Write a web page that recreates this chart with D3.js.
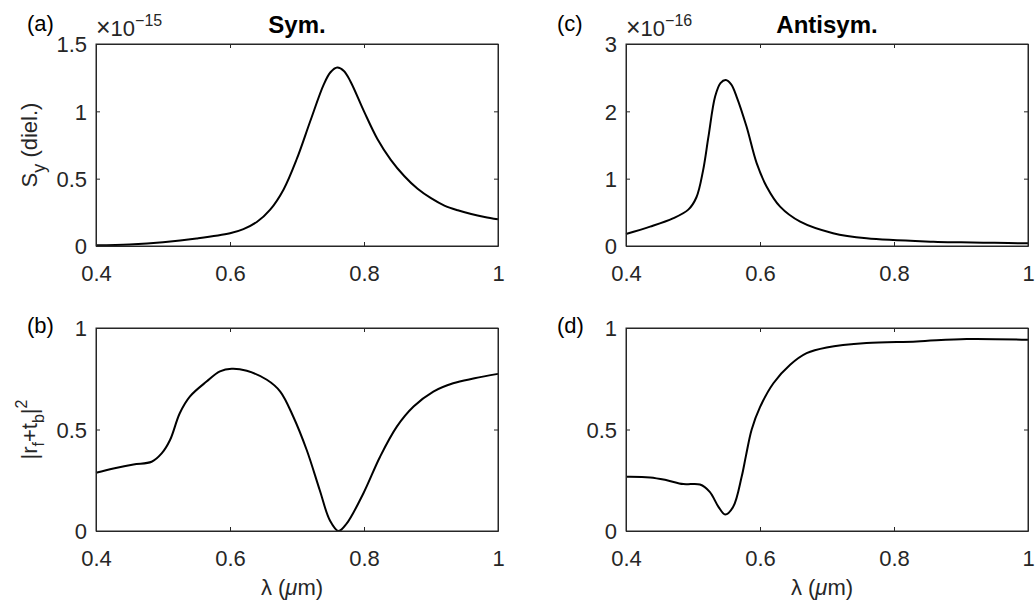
<!DOCTYPE html>
<html>
<head>
<meta charset="utf-8">
<script src="https://cdn.jsdelivr.net/npm/d3@7/dist/d3.min.js"></script>
<style>
  html, body { margin: 0; padding: 0; background: #fff; }
  svg { display: block; font-family: "Liberation Sans", Arial, Helvetica, sans-serif; }
</style>
</head>
<body>
<svg id="chart" width="1035" height="607"></svg>
<script>
// ---- Data ----
const xTicks = [0.4, 0.6, 0.8, 1];
const xTickLabels = ["0.4", "0.6", "0.8", "1"];

// (a) Sym. S_y (diel.), in units of 1e-15
const symLambdaA = [0.40, 0.45, 0.50, 0.55, 0.60, 0.62, 0.64, 0.66, 0.68, 0.70, 0.72, 0.74, 0.75, 0.76, 0.77, 0.78, 0.80, 0.82, 0.84, 0.86, 0.88, 0.90, 0.92, 0.94, 0.96, 0.98, 1.00];
const symSy = [0.005, 0.012, 0.028, 0.055, 0.094, 0.125, 0.178, 0.27, 0.42, 0.65, 0.93, 1.20, 1.29, 1.325, 1.30, 1.22, 1.00, 0.795, 0.64, 0.52, 0.425, 0.355, 0.30, 0.265, 0.238, 0.216, 0.198];
const symYTicks = [0, 0.5, 1, 1.5];
const symYTickLabels = ["0", "0.5", "1", "1.5"];

// (b) Sym. |r_f + t_b|^2
const symLambdaB = [0.40, 0.426, 0.456, 0.483, 0.498, 0.5105, 0.525, 0.540, 0.565, 0.585, 0.6025, 0.625, 0.655, 0.675, 0.6945, 0.7145, 0.734, 0.749, 0.762, 0.774, 0.799, 0.824, 0.849, 0.874, 0.9035, 0.933, 0.965, 1.00];
const symR = [0.287, 0.308, 0.328, 0.341, 0.382, 0.448, 0.58, 0.662, 0.736, 0.786, 0.799, 0.789, 0.745, 0.687, 0.563, 0.399, 0.201, 0.053, 0.0, 0.036, 0.185, 0.366, 0.514, 0.613, 0.687, 0.728, 0.752, 0.774];

// (c) Antisym. S_y (diel.), in units of 1e-16
const antiLambdaC = [0.40, 0.436, 0.47, 0.493, 0.505, 0.515, 0.523, 0.533, 0.541, 0.549, 0.557, 0.565, 0.580, 0.595, 0.610, 0.630, 0.660, 0.709, 0.759, 0.859, 0.90, 0.95, 1.00];
const antiSy = [0.178, 0.287, 0.41, 0.54, 0.72, 1.12, 1.62, 2.22, 2.42, 2.466, 2.40, 2.22, 1.77, 1.23, 0.88, 0.584, 0.361, 0.19, 0.114, 0.064, 0.055, 0.047, 0.04];
const antiYTicks = [0, 1, 2, 3];
const antiYTickLabels = ["0", "1", "2", "3"];

// (d) Antisym. |r_f + t_b|^2
const antiLambdaD = [0.40, 0.436, 0.461, 0.4855, 0.5104, 0.525, 0.538, 0.548, 0.560, 0.5726, 0.579, 0.5876, 0.600, 0.620, 0.645, 0.6696, 0.6995, 0.759, 0.834, 0.9085, 1.00];
const antiR = [0.267, 0.264, 0.25, 0.231, 0.229, 0.193, 0.119, 0.081, 0.119, 0.267, 0.37, 0.50, 0.61, 0.728, 0.819, 0.876, 0.904, 0.926, 0.934, 0.946, 0.942];

const rYTicks = [0, 0.5, 1];
const rYTickLabels = ["0", "0.5", "1"];

// ---- Drawing ----
const svg = d3.select("#chart");
const AX = "#262626";
const FS = 22;

const panels = [
  { key: "a", left: 96, right: 498, top: 44, bottom: 246, lam: symLambdaA, val: symSy, yMax: 1.5, yt: symYTicks, ytl: symYTickLabels, exp: "\u221215", title: "Sym.", label: "(a)", lx: 27, ly: 30.5, ylabel: "S" },
  { key: "b", left: 96, right: 498, top: 328, bottom: 531, lam: symLambdaB, val: symR, yMax: 1, yt: rYTicks, ytl: rYTickLabels, label: "(b)", lx: 27, ly: 333, ylabel: "R", xlabel: true },
  { key: "c", left: 626, right: 1028, top: 44, bottom: 246, lam: antiLambdaC, val: antiSy, yMax: 3, yt: antiYTicks, ytl: antiYTickLabels, exp: "\u221216", title: "Antisym.", label: "(c)", lx: 557, ly: 30.5 },
  { key: "d", left: 626, right: 1028, top: 328, bottom: 531, lam: antiLambdaD, val: antiR, yMax: 1, yt: rYTicks, ytl: rYTickLabels, label: "(d)", lx: 557, ly: 333, xlabel: true }
];

panels.forEach(p => {
  const x = d3.scaleLinear().domain([0.4, 1]).range([p.left, p.right]);
  const y = d3.scaleLinear().domain([0, p.yMax]).range([p.bottom, p.top]);
  const g = svg.append("g");

  // curve
  const pts = p.lam.map((l, i) => [l, p.val[i]]);
  g.append("path")
    .datum(pts)
    .attr("fill", "none")
    .attr("stroke", "#000")
    .attr("stroke-width", 2)
    .attr("stroke-linejoin", "round")
    .attr("d", d3.line().x(d => x(d[0])).y(d => Math.min(y(d[1]), p.bottom)).curve(d3.curveCatmullRom.alpha(0.5)));

  // axes
  const fmtX = (d, i) => xTickLabels[i];
  const fmtY = (d, i) => p.ytl[i];
  const axB = g.append("g").attr("transform", `translate(0,${p.bottom})`)
    .call(d3.axisBottom(x).tickValues(xTicks).tickFormat(fmtX).tickSizeInner(-4).tickSizeOuter(0).tickPadding(19));
  const axT = g.append("g").attr("transform", `translate(0,${p.top})`)
    .call(d3.axisTop(x).tickValues(xTicks).tickFormat("").tickSizeInner(-4).tickSizeOuter(0));
  const axL = g.append("g").attr("transform", `translate(${p.left},0)`)
    .call(d3.axisLeft(y).tickValues(p.yt).tickFormat(fmtY).tickSizeInner(-4).tickSizeOuter(0).tickPadding(9));
  const axR = g.append("g").attr("transform", `translate(${p.right},0)`)
    .call(d3.axisRight(y).tickValues(p.yt).tickFormat("").tickSizeInner(-4).tickSizeOuter(0));
  [axB, axT, axL, axR].forEach(a => {
    a.select(".domain").attr("stroke", AX).attr("stroke-width", 1);
    a.selectAll(".tick line").attr("stroke", AX).attr("stroke-width", 1);
    a.selectAll("text").attr("fill", AX).style("font-size", FS + "px").style("font-family", "'Liberation Sans', Arial, sans-serif");
  });
  axB.selectAll("text").attr("dy", "0.71em");
  axL.selectAll("text").attr("dy", "0.36em");

  // panel label
  svg.append("text").attr("x", p.lx).attr("y", p.ly).attr("fill", "#000")
    .style("font-size", FS + "px").text(p.label);

  // exponent
  if (p.exp) {
    const t = svg.append("text").attr("x", p.left).attr("y", p.top - 8).attr("fill", AX).style("font-size", FS + "px");
    t.append("tspan").style("font-size", "25px").text("\u00d7");
    t.append("tspan").text("10");
    t.append("tspan").attr("dy", -10).style("font-size", "16px").text(p.exp);
  }

  // title
  if (p.title) {
    svg.append("text").attr("x", (p.left + p.right) / 2).attr("y", p.top - 11)
      .attr("text-anchor", "middle").attr("fill", "#000")
      .style("font-size", "24px").style("font-weight", "bold").text(p.title);
  }

  // y labels
  if (p.ylabel === "S") {
    const t = svg.append("text")
      .attr("transform", `translate(37,${(p.top + p.bottom) / 2}) rotate(-90)`)
      .attr("text-anchor", "middle").attr("fill", AX).style("font-size", FS + "px");
    t.append("tspan").text("S");
    t.append("tspan").attr("dy", 8).style("font-size", "18px").text("y");
    t.append("tspan").attr("dy", -8).text(" (diel.)");
  } else if (p.ylabel === "R") {
    const t = svg.append("text")
      .attr("transform", `translate(37,${(p.top + p.bottom) / 2}) rotate(-90)`)
      .attr("text-anchor", "middle").attr("fill", AX).style("font-size", FS + "px");
    t.append("tspan").text("|r");
    t.append("tspan").attr("dy", 7).style("font-size", "16px").text("f");
    t.append("tspan").attr("dy", -7).text("+t");
    t.append("tspan").attr("dy", 7).style("font-size", "16px").text("b");
    t.append("tspan").attr("dy", -7).text("|");
    t.append("tspan").attr("dy", -10).style("font-size", "16px").text("2");
  }

  // x label
  if (p.xlabel) {
    const t = svg.append("text").attr("x", (p.left + p.right) / 2 - 5).attr("y", 595)
      .attr("text-anchor", "middle").attr("fill", AX).style("font-size", FS + "px");
    t.append("tspan").text("\u03bb (");
    t.append("tspan").style("font-style", "italic").text("\u03bc");
    t.append("tspan").text("m)");
  }

  // box
  g.append("rect").attr("x", p.left).attr("y", p.top)
    .attr("width", p.right - p.left).attr("height", p.bottom - p.top)
    .attr("fill", "none").attr("stroke", AX).attr("stroke-width", 1);
});
</script>
</body>
</html>
